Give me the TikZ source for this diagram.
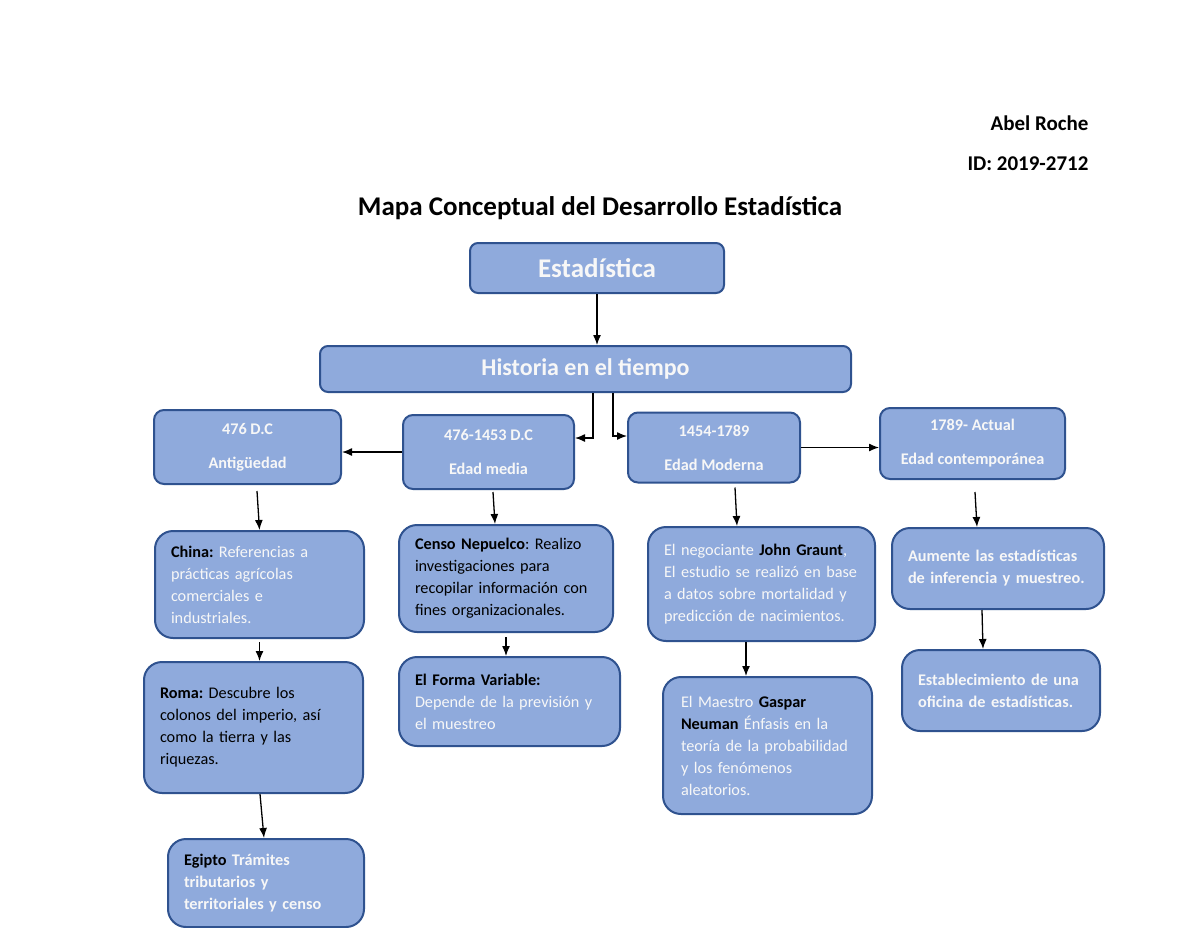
\documentclass[tikz,border=0pt]{standalone}
\usepackage{fontspec}
\setmainfont{Carlito}
\usetikzlibrary{arrows.meta, positioning, calc}

\definecolor{cajaazul}{HTML}{8FAADC}
\definecolor{bordeazul}{HTML}{2F528F}
\definecolor{blanco}{HTML}{F7F7F7}
\newcommand{\negro}[1]{\textcolor{black}{#1}}
\newcommand{\sincorte}{\frenchspacing\rightskip=0pt plus 1fil minus 40pt\relax}

\tikzset{
  caja/.style={draw=bordeazul, fill=cajaazul, line width=2pt, rounded corners=18pt,
    text=blanco, font=\fontsize{16.25}{22}\selectfont, inner xsep=16pt, align=left,
    execute at begin node=\sincorte},
  cajanegrita/.style={caja, font=\fontsize{16.25}{22}\selectfont\bfseries},
  cabecera/.style={caja, rounded corners=10pt, font=\fontsize{16.25}{22}\selectfont\bfseries, align=center,
    execute at begin node=\frenchspacing},
  flecha/.style={-{Latex[length=10pt,width=8pt]}, line width=1.3pt},
}

\begin{document}
\begin{tikzpicture}[x=1pt, y=-1pt]
    \useasboundingbox (0,0) rectangle (1200,927);
    \fill[white] (0,0) rectangle (1200,927);

    % encabezado
    \node[anchor=east, font=\fontsize{21}{25}\selectfont\bfseries] (autor) at (1092,123) {Abel Roche};
    \node[anchor=east, font=\fontsize{21}{25}\selectfont\bfseries] (id) at (1092,164) {ID: 2019-2712};
    \node[font=\fontsize{27}{32}\selectfont\bfseries] (titulo) at (600,208) {Mapa Conceptual del Desarrollo Estadística};

    % raiz
    \node[cabecera, rounded corners=8pt, minimum width=254pt, minimum height=50pt,
      font=\fontsize{27}{32}\selectfont\bfseries] (est) at (597,268) {Estadística};
    \node[cabecera, rounded corners=8pt, minimum width=531pt, minimum height=46pt,
      font=\fontsize{24}{28}\selectfont\bfseries] (hist) at (585.5,369) {Historia en el tiempo};

    % epocas
    \node[cabecera, minimum width=187pt, minimum height=74pt] (ant) at (247.5,447) {476 D.C\\[12pt]Antigüedad};
    \node[cabecera, minimum width=171pt, minimum height=74pt] (med) at (488.5,452) {476-1453 D.C\\[12pt]Edad media};
    \node[cabecera, minimum width=172pt, minimum height=70pt] (mod) at (714,447.5) {1454-1789\\[12pt]Edad Moderna};
    \node[cabecera, minimum width=185pt, minimum height=71pt] (con) at (972.5,443.5) {1789- Actual\\[12pt]Edad contemporánea};

    % detalles
    \node[caja, text width=177pt, minimum height=107pt] (china) at (259.5,584.5)
      {\negro{\textbf{China:}} Referencias a\\prácticas agrícolas\\comerciales e\\industriales.};
    \node[caja, text=black, text width=182pt, minimum height=107pt] (censo) at (506,578.5)
      {\textbf{Censo Nepuelco}: Realizo\\investigaciones para\\recopilar información con\\fines organizacionales.};
    \node[caja, text width=195pt, minimum height=114pt] (graunt) at (761.5,584)
      {El negociante \negro{\textbf{John Graunt}},\\El estudio se realizó en base\\a datos sobre mortalidad y\\predicción de nacimientos.};
    \node[cajanegrita, text width=180pt, minimum height=81pt] (aumente) at (998,568.5)
      {Aumente las estadísticas\\de inferencia y muestreo.};

    \node[caja, text=black, text width=187pt, minimum height=131pt] (roma) at (253.5,727.5)
      {\textbf{Roma:} Descubre los\\colonos del imperio, así\\como la tierra y las\\riquezas.};
    \node[caja, text width=189pt, minimum height=89pt] (forma) at (509.5,701.5)
      {\negro{\textbf{El Forma Variable:}}\\Depende de la previsión y\\el muestreo};
    \node[caja, text width=173pt, minimum height=137pt, inner xsep=18pt] (gaspar) at (767.5,745.5)
      {El Maestro \negro{\textbf{Gaspar}}\\\negro{\textbf{Neuman}} Énfasis en la\\teoría de la probabilidad\\y los fenómenos\\aleatorios.};
    \node[cajanegrita, text width=166pt, minimum height=81pt] (estab) at (1001,690.5)
      {Establecimiento de una\\oficina de estadísticas.};

    \node[cajanegrita, text width=164pt, minimum height=88pt] (egipto) at (266,883)
      {\negro{Egipto} Trámites\\tributarios y\\territoriales y censo};

    % flechas
    \draw[flecha] (est.south) -- (est.south |- hist.north);
    \draw[flecha] ([xshift=7.5pt]hist.south) |- ([yshift=14pt]med.east);
    \draw[flecha] ([xshift=27.5pt]hist.south) |- ([yshift=11.5pt]mod.west);
    \draw[flecha] (med.west) -- (med.west -| ant.east);
    \draw[flecha] (mod.east) -- (mod.east -| con.west);

    \draw[flecha] ([shift={(9.5,6)}]ant.south) -- (china.north);
    \draw[flecha] ([shift={(4.5,2)}]med.south) -- ([xshift=-11pt]censo.north);
    \draw[flecha] ([shift={(21,4)}]mod.south) -- ([xshift=-24.5pt]graunt.north);
    \draw[flecha] ([shift={(2.5,12)}]con.south) -- ([xshift=-21pt]aumente.north);

    \draw[flecha] ([yshift=-3pt]china.south) -- (china.south |- roma.north);
    \draw[flecha] ([yshift=-4pt]censo.south) -- (censo.south |- forma.north);
    \draw[flecha] ([xshift=-15.5pt]graunt.south) -- ([xshift=-21.5pt]gaspar.north);
    \draw[flecha] ([xshift=-16pt]aumente.south) -- ([xshift=-18pt]estab.north);
    \draw[flecha] ([xshift=6.5pt]roma.south) -- ([xshift=-2pt]egipto.north);
\end{tikzpicture}
\end{document}
